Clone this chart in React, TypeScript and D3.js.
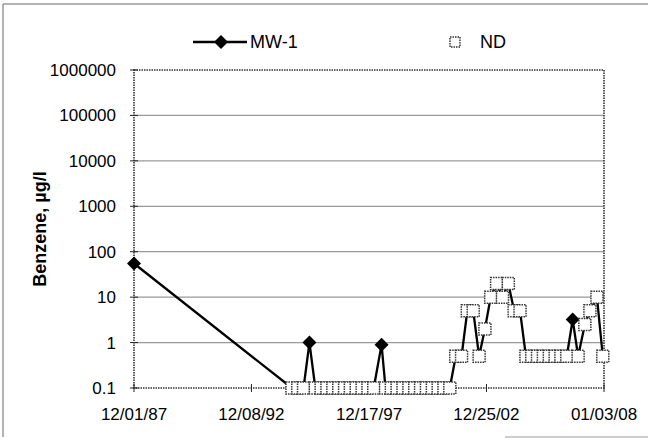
import React from "react";
import * as d3 from "d3";

const sampleDates = [
  "1987-12-01",
  "1994-09-01", "1994-12-01", "1995-03-01", "1995-06-01", "1995-09-01", "1995-12-01",
  "1996-03-01", "1996-06-01", "1996-09-01", "1996-12-01", "1997-03-01", "1997-06-01",
  "1997-09-01", "1997-12-01", "1998-03-01", "1998-07-01", "1998-09-01", "1998-12-01",
  "1999-03-01", "1999-06-01", "1999-09-01", "1999-12-01", "2000-03-01", "2000-06-01",
  "2000-09-01", "2000-12-01", "2001-03-01", "2001-06-01",
  "2001-09-01", "2001-12-01", "2002-03-01", "2002-06-01", "2002-09-01", "2002-12-01",
  "2003-03-01", "2003-06-01", "2003-09-01", "2003-12-01", "2004-03-01", "2004-06-01",
  "2004-09-01", "2004-12-01", "2005-03-01", "2005-06-01", "2005-09-01", "2005-12-01",
  "2006-03-01", "2006-06-01", "2006-09-01", "2006-11-25", "2007-03-10", "2007-05-28",
  "2007-09-15", "2007-12-15",
];

const benzene = [
  55,
  0.1, 0.1, 0.1, 1.0, 0.1, 0.1,
  0.1, 0.1, 0.1, 0.1, 0.1, 0.1,
  0.1, 0.1, 0.1, 0.9, 0.1, 0.1,
  0.1, 0.1, 0.1, 0.1, 0.1, 0.1,
  0.1, 0.1, 0.1, 0.1,
  0.5, 0.5, 5, 5, 0.5, 2,
  10, 20, 10, 20, 5, 5,
  0.5, 0.5, 0.5, 0.5, 0.5, 0.5,
  0.5, 0.5, 3.2, 0.5, 2.5, 5,
  10, 0.5,
];

const nonDetect = [
  false,
  true, true, true, false, true, true,
  true, true, true, true, true, true,
  true, true, true, false, true, true,
  true, true, true, true, true, true,
  true, true, true, true,
  true, true, true, true, true, true,
  true, true, true, true, true, true,
  true, true, true, true, true, true,
  true, true, false, true, true, true,
  true, true,
];

const xTickDates = ["1987-12-01", "1992-12-08", "1997-12-17", "2002-12-25", "2008-01-03"];
const xTickLabels = ["12/01/87", "12/08/92", "12/17/97", "12/25/02", "01/03/08"];
const yTickValues = [0.1, 1, 10, 100, 1000, 10000, 100000, 1000000];
const yTickLabels = ["0.1", "1", "10", "100", "1000", "10000", "100000", "1000000"];

const seriesName = "MW-1";
const ndName = "ND";
const yTitle = "Benzene, µg/l";

const W = 648;
const H = 442;
const left = 134;
const right = 604;
const top = 70;
const bottom = 388;
const FONT = "Arial, 'Liberation Sans', Helvetica, sans-serif";

export default function App() {
  const parse = d3.utcParse("%Y-%m-%d");
  const x = d3
    .scaleUtc()
    .domain([parse(xTickDates[0])!, parse(xTickDates[xTickDates.length - 1])!])
    .range([left, right]);
  const y = d3.scaleLog().domain([0.1, 1000000]).range([bottom, top]);

  const pts = sampleDates.map((d, i) => ({
    x: x(parse(d)!),
    y: y(benzene[i]),
    nd: nonDetect[i],
  }));
  const line = d3
    .line<{ x: number; y: number }>()
    .x((d) => d.x)
    .y((d) => d.y);

  const diamond = (cx: number, cy: number, r: number) =>
    `M${cx},${cy - r}L${cx + r},${cy}L${cx},${cy + r}L${cx - r},${cy}Z`;
  const sq = 12;

  return (
    <svg
      width={W}
      height={H}
      style={{ position: "absolute", left: 0, top: 0, background: "#fff" }}
      fontFamily={FONT}
    >
      <rect x={0} y={0} width={W} height={H} fill="#fff" />
      {/* outer frame */}
      <line x1={3} y1={4} x2={W} y2={4} stroke="#666" strokeWidth={1} />
      <line x1={3} y1={4} x2={3} y2={437} stroke="#666" strokeWidth={1} />
      <line x1={505} y1={437} x2={W} y2={437} stroke="#999" strokeWidth={1} />

      {/* gridlines */}
      {yTickValues.slice(1, -1).map((v) => (
        <line
          key={"g" + v}
          x1={left}
          x2={right}
          y1={y(v)}
          y2={y(v)}
          stroke="#999"
          strokeWidth={1.2}
        />
      ))}
      {/* plot border */}
      <rect
        x={left}
        y={top}
        width={right - left}
        height={bottom - top}
        fill="none"
        stroke="#333"
        strokeWidth={1.6}
        strokeDasharray="1.5,1"
      />
      {/* y ticks */}
      {yTickValues.map((v, i) => (
        <g key={"y" + v}>
          <line x1={left - 4} x2={left + 4} y1={y(v)} y2={y(v)} stroke="#222" strokeWidth={1} />
          <text
            x={left - 18}
            y={y(v)}
            dy="0.35em"
            textAnchor="end"
            fontSize={17}
            fill="#000"
          >
            {yTickLabels[i]}
          </text>
        </g>
      ))}
      {/* x ticks */}
      {xTickDates.map((d, i) => {
        const xx = x(parse(d)!);
        return (
          <g key={"x" + d}>
            <line x1={xx} x2={xx} y1={bottom - 4} y2={bottom + 4} stroke="#222" strokeWidth={1} />
            <text x={xx} y={420} textAnchor="middle" fontSize={17} fill="#000">
              {xTickLabels[i]}
            </text>
          </g>
        );
      })}
      {/* y title */}
      <text
        transform={`translate(46,${(top + bottom) / 2}) rotate(-90)`}
        textAnchor="middle"
        fontSize={18}
        fontWeight="bold"
        fill="#000"
      >
        {yTitle}
      </text>

      {/* series line */}
      <path d={line(pts) ?? ""} fill="none" stroke="#000" strokeWidth={2.3} />
      {pts
        .filter((p) => !p.nd)
        .map((p, i) => (
          <path key={"d" + i} d={diamond(p.x, p.y, 7)} fill="#000" />
        ))}
      {pts
        .filter((p) => p.nd)
        .map((p, i) => (
          <rect
            key={"s" + i}
            x={p.x - sq / 2}
            y={p.y - sq / 2}
            width={sq}
            height={sq}
            fill="#fff"
            stroke="#333"
            strokeWidth={1.5}
            strokeDasharray="1.5,1"
          />
        ))}

      {/* legend */}
      <line x1={193} x2={247} y1={42} y2={42} stroke="#000" strokeWidth={2.3} />
      <path d={diamond(221, 42, 7)} fill="#000" />
      <text x={250} y={42} dy="0.35em" fontSize={18} fill="#000">
        {seriesName}
      </text>
      <rect
        x={455 - 5}
        y={42 - 5}
        width={10}
        height={10}
        fill="#fff"
        stroke="#333"
        strokeWidth={1.5}
        strokeDasharray="1.5,1"
      />
      <text x={480} y={42} dy="0.35em" fontSize={18} fill="#000">
        {ndName}
      </text>
    </svg>
  );
}
